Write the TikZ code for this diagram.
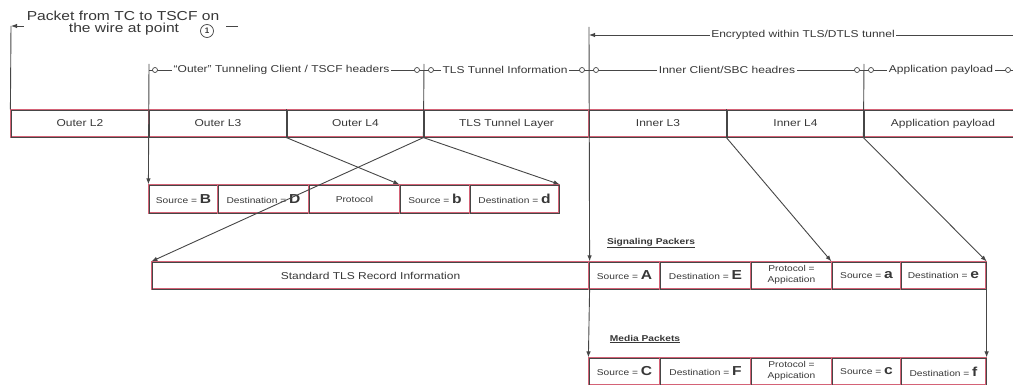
\documentclass[tikz,border=0pt]{standalone}
\usepackage{fontspec}
\setmainfont{Liberation Sans}
\usetikzlibrary{arrows.meta}
\definecolor{lg}{RGB}{70,70,70}
\definecolor{cr}{RGB}{212,98,118}
\definecolor{tg}{RGB}{55,55,55}
\newcommand{\hs}[1]{\scalebox{1.2}[1]{#1}}
\newcommand{\fs}[1]{\fontsize{#1}{#1}\selectfont}
\newcommand{\sd}[2]{\hs{\fs{8.5}#1 = {\fs{13}\bfseries #2}}}
\newcommand{\protapp}{\hs{\fs{8.5}\begin{tabular}{@{}c@{}}Protocol =\\[2.5pt]Appication\end{tabular}}}
\begin{document}
\begin{tikzpicture}[x=1pt,y=-1pt,
  cell/.style={draw=cr, line width=1.2pt, inner sep=0pt, minimum height=27pt, text=tg,
    postaction={draw=lg, line width=0.3pt}},
  ln/.style={draw=lg, line width=0.9pt},
  arr/.style={ln, -{Latex[length=6pt,width=4.5pt]}},
  lab/.style={fill=white, inner sep=1.5pt, text=tg},
  ring/.style={circle, draw=lg, line width=0.7pt, fill=white, inner sep=0pt, minimum size=5pt}]
\useasboundingbox (0,0) rectangle (1013,385);
\clip (0,0) rectangle (1013,385);

% ---- main bar
\node[cell, minimum width=138pt] (l2)  at (80,123.5)    {\hs{\fs{10}Outer L2}};
\node[cell, minimum width=138pt] (l3)  at (218,123.5)   {\hs{\fs{10}Outer L3}};
\node[cell, minimum width=137pt] (l4)  at (355.5,123.5) {\hs{\fs{10}Outer L4}};
\node[cell, minimum width=165pt] (tls) at (506.5,123.5) {\hs{\fs{10}TLS Tunnel Layer}};
\node[cell, minimum width=138pt] (il3) at (658,123.5)   {\hs{\fs{10}Inner L3}};
\node[cell, minimum width=137pt] (il4) at (795.5,123.5) {\hs{\fs{10}Inner L4}};
\node[cell, minimum width=158pt] (app) at (943,123.5)   {\hs{\fs{10}Application payload}};

% ---- outer header row
\node[cell, minimum height=28pt, minimum width=69pt] (sB) at (183.5,199) {\sd{Source}{B}};
\node[cell, minimum height=28pt, minimum width=91pt] (dD) at (263.5,199) {\sd{Destination}{D}};
\node[cell, minimum height=28pt, minimum width=91pt] (pr) at (354.5,199) {\hs{\fs{8.5}Protocol}};
\node[cell, minimum height=28pt, minimum width=70pt] (sb) at (435,199)   {\sd{Source}{b}};
\node[cell, minimum height=28pt, minimum width=89pt] (dd) at (514.5,199) {\sd{Destination}{d}};

% ---- signaling row
\node[cell, minimum width=437pt] (tlsrec) at (370.5,275.5) {\hs{\fs{10}Standard TLS Record Information}};
\node[cell, minimum width=71pt] (sA) at (624.5,275.5) {\sd{Source}{A}};
\node[cell, minimum width=91pt] (dE) at (705.5,275.5) {\sd{Destination}{E}};
\node[cell, minimum width=81pt] (pA) at (791.5,275.5) {\protapp};
\node[cell, minimum width=69pt] (sa) at (866.5,275.5) {\sd{Source}{a}};
\node[cell, minimum width=85pt] (de) at (943.5,275.5) {\sd{Destination}{e}};

% ---- media row
\node[cell, minimum width=71pt] (sC) at (624.5,371.5) {\sd{Source}{C}};
\node[cell, minimum width=91pt] (dF) at (705.5,371.5) {\sd{Destination}{F}};
\node[cell, minimum width=81pt] (pB) at (791.5,371.5) {\protapp};
\node[cell, minimum width=69pt] (sc) at (866.5,371.5) {\sd{Source}{c}};
\node[cell, minimum width=85pt] (df) at (943.5,371.5) {\sd{Destination}{f}};

\node[text=tg, inner sep=0pt] (sig) at (651,243) {\hs{\fs{8.5}\bfseries\underline{Signaling Packers}}};
\node[text=tg, inner sep=0pt] (med) at (645,339) {\hs{\fs{8.5}\bfseries\underline{Media Packets}}};

% ---- coordinates for free ends
\coordinate (hdrL) at (11,26);
\coordinate (hdrR) at (238,26);
\coordinate (encL) at (589,35);
\coordinate (encR) at (1013,35);
\coordinate (brL) at (149,70);
\coordinate (brR) at (1013,70);
\coordinate (v149) at (149,64);
\coordinate (v424) at (424,64);
\coordinate (v589) at (589,27);
\coordinate (v864) at (864,64);

% ---- bar dividers
\draw[ln] (l4.north west) -- (l4.south west);
\draw[ln] (il4.north west) -- (il4.south west);

% ---- header dimension line
\draw[arr] (hdrR) -- (hdrL);
\draw[ln] (hdrL) -- (l2.north west);
\fill[white] (24,7) rectangle (226,42);
\node[text=tg, inner sep=0pt] (hdr1) at (123,16) {\hs{\fs{13}Packet from TC to TSCF on}};
\node[text=tg, inner sep=0pt] (hdr2) at (124,29) {\hs{\fs{13}the wire at point}};
\node[circle, draw=lg, line width=0.7pt, inner sep=0pt, minimum size=13pt, text=tg] (pt1) at (207,31) {\fs{8}\bfseries 1};

% ---- encrypted line
\draw[arr] (encR) -- (encL);
\node[lab] (enc) at (803,35) {\hs{\fs{10}Encrypted within TLS/DTLS tunnel}};

% ---- bracket row
\draw[ln] (brL) -- (brR);
\draw[arr] (v149) -- (sB.north west);
\draw[ln] (v424) -- (tls.south west);
\draw[arr] (v589) -- (tlsrec.north east);
\draw[arr] (tlsrec.south east) -- (sC.north west);
\draw[ln] (v864) -- (app.south west);
\foreach \x/\n in {155/r1,417/r2,431/r3,582/r4,596/r5,857/r6,871/r7,1008/r8}
  \node[ring] (\n) at (\x,70) {};
\node[lab] (b1) at (281.5,70) {\hs{\fs{10}\textquotedblleft Outer\textquotedblright\ Tunneling Client / TSCF headers}};
\node[lab] (b2) at (505,70)   {\hs{\fs{10}TLS Tunnel Information}};
\node[lab] (b3) at (727,70)   {\hs{\fs{10}Inner Client/SBC headres}};
\node[lab] (b4) at (941,70)   {\hs{\fs{10}Application payload}};

% ---- diagonal connectors
\draw[arr] (l4.south west) -- (sb.north west);
\draw[arr] (tls.south west) -- (dd.north east);
\draw[arr] (tls.south west) -- (tlsrec.north west);
\draw[arr] (il4.south west) -- (sa.north west);
\draw[arr] (app.south west) -- (de.north east);
\draw[arr] (de.south east) -- (df.north east);
\end{tikzpicture}
\end{document}
